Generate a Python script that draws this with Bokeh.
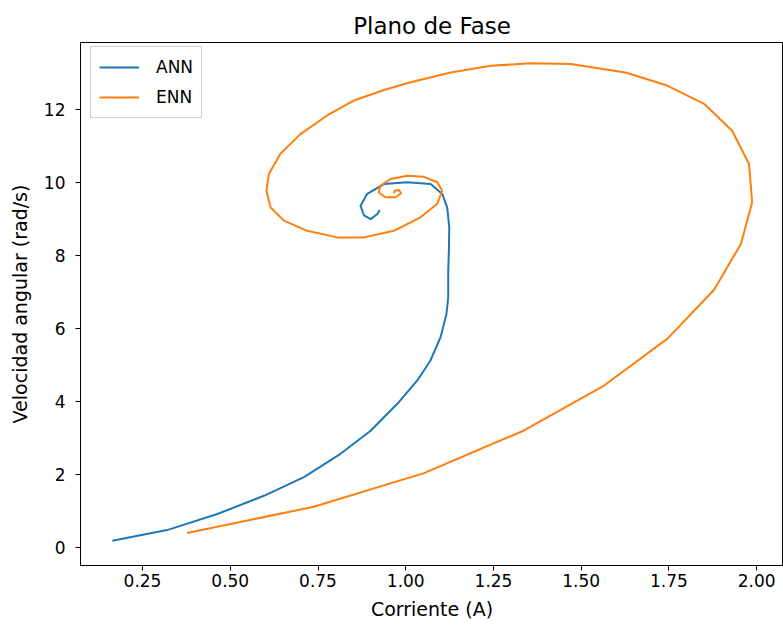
from bokeh.plotting import figure
from bokeh.models import Range1d, FixedTicker, Legend, LegendItem
from bokeh.embed import file_html
from bokeh.resources import INLINE

# ANN trajectory (Corriente, Velocidad angular)
ann_x = [0.164, 0.32, 0.463, 0.596, 0.71, 0.814, 0.90, 0.976, 1.033, 1.07, 1.099,
         1.116, 1.121, 1.121, 1.123, 1.124, 1.118, 1.104, 1.071, 1.004, 0.938,
         0.89, 0.871, 0.881, 0.90, 0.919, 0.926]
ann_y = [0.19, 0.48, 0.92, 1.42, 1.93, 2.57, 3.2, 3.94, 4.58, 5.12, 5.76,
         6.4, 6.86, 7.59, 8.14, 8.78, 9.32, 9.69, 9.96, 10.01, 9.96,
         9.69, 9.37, 9.1, 9.0, 9.14, 9.25]

# ENN trajectory
enn_x = [0.377, 0.738, 1.052, 1.337, 1.565, 1.745, 1.878, 1.955, 1.987, 1.978,
         1.930, 1.85, 1.745, 1.626, 1.47, 1.356, 1.242, 1.128, 1.014, 0.938,
         0.852, 0.776, 0.70, 0.643, 0.61, 0.603, 0.615, 0.653, 0.719, 0.805,
         0.881, 0.966, 1.042, 1.09, 1.104, 1.09, 1.052, 1.004, 0.957, 0.928,
         0.923, 0.942, 0.971, 0.987, 0.98, 0.968, 0.966]
enn_y = [0.40, 1.12, 2.04, 3.21, 4.44, 5.72, 7.06, 8.32, 9.46, 10.51,
         11.42, 12.16, 12.66, 13.02, 13.25, 13.27, 13.2, 13.02, 12.75, 12.54,
         12.25, 11.84, 11.33, 10.79, 10.24, 9.78, 9.32, 8.96, 8.68, 8.5,
         8.5, 8.68, 9.05, 9.42, 9.78, 10.01, 10.16, 10.19, 10.1, 9.92,
         9.73, 9.6, 9.6, 9.71, 9.8, 9.78, 9.71]

x_ticks = [0.25, 0.5, 0.75, 1.0, 1.25, 1.5, 1.75, 2.0]
x_tick_labels = ["0.25", "0.50", "0.75", "1.00", "1.25", "1.50", "1.75", "2.00"]
y_ticks = [0, 2, 4, 6, 8, 10, 12]

FONT = "DejaVu Sans"

p = figure(width=783, height=632, output_backend="svg", toolbar_location=None,
           x_range=Range1d(0.0733, 2.0763), y_range=Range1d(-0.49, 13.84),
           min_border_left=80, min_border_right=0, min_border_top=42,
           min_border_bottom=67)

p.title.text = "Plano de Fase"
p.title.align = "center"
p.title.text_font = FONT
p.title.text_font_size = "23px"
p.title.text_font_style = "normal"
p.title.text_color = "black"
p.title.standoff = 7

p.xgrid.visible = False
p.ygrid.visible = False
p.outline_line_color = "black"
p.outline_line_alpha = 1.0
p.outline_line_width = 1
p.background_fill_color = "white"
p.border_fill_color = "white"

p.xaxis.ticker = FixedTicker(ticks=x_ticks)
p.xaxis.major_label_overrides = {t: l for t, l in zip(x_ticks, x_tick_labels)}
p.yaxis.ticker = FixedTicker(ticks=y_ticks)
p.xaxis.axis_label = "Corriente (A)"
p.yaxis.axis_label = "Velocidad angular (rad/s)"
for ax in (p.xaxis[0], p.yaxis[0]):
    ax.axis_label_text_font = FONT
    ax.axis_label_text_font_size = "19px"
    ax.axis_label_text_font_style = "normal"
    ax.axis_label_text_color = "black"
    ax.major_label_text_font = FONT
    ax.major_label_text_font_size = "17px"
    ax.major_label_text_color = "black"
    ax.major_tick_in = 0
    ax.major_tick_out = 5
    ax.minor_tick_in = 0
    ax.minor_tick_out = 0
    ax.axis_line_color = "black"
    ax.major_tick_line_color = "black"
p.xaxis.major_label_standoff = 3
p.yaxis.major_label_standoff = 10
p.xaxis.axis_label_standoff = 8
p.yaxis.axis_label_standoff = 10

r1 = p.line(ann_x, ann_y, line_color="#1f77b4", line_width=2)
r2 = p.line(enn_x, enn_y, line_color="#ff7f0e", line_width=2)

legend = Legend(items=[LegendItem(label="ANN", renderers=[r1]),
                       LegendItem(label="ENN", renderers=[r2])],
                location=(10, 447))
legend.label_text_font = FONT
legend.label_text_font_size = "17px"
legend.label_text_color = "black"
legend.glyph_width = 40
legend.glyph_height = 24
legend.label_height = 24
legend.spacing = 6
legend.padding = 8
legend.margin = 0
legend.label_standoff = 17
legend.border_line_color = "#d0d0d0"
legend.border_line_alpha = 1.0
legend.background_fill_alpha = 0.8
p.add_layout(legend)

open("out.html", "w").write(file_html(p, INLINE))
